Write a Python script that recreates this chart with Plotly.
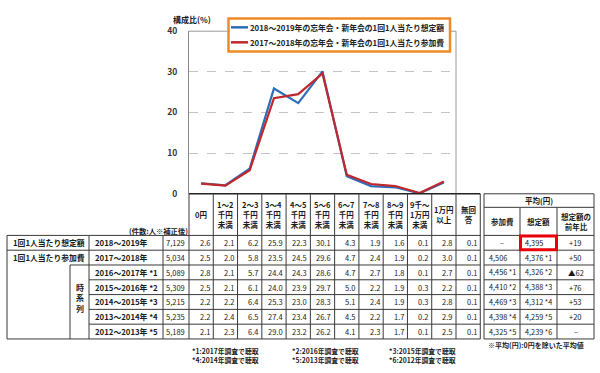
import plotly.graph_objects as go

# ---------------- data ----------------
categories = ["0円", "1～2千円未満", "2～3千円未満", "3～4千円未満", "4～5千円未満",
              "5～6千円未満", "6～7千円未満", "7～8千円未満", "8～9千円未満",
              "9千～1万円未満", "1万円以上"]
header_labels = ["0円", "1～2<br>千円<br>未満", "2～3<br>千円<br>未満", "3～4<br>千円<br>未満",
                 "4～5<br>千円<br>未満", "5～6<br>千円<br>未満", "6～7<br>千円<br>未満",
                 "7～8<br>千円<br>未満", "8～9<br>千円<br>未満", "9千～<br>1万円<br>未満",
                 "1万円<br>以上", "無回<br>答"]

series_names = ["2018～2019年の忘年会・新年会の1回1人当たり想定額",
                "2017～2018年の忘年会・新年会の1回1人当たり参加費"]
series_colors = ["#2E6DB8", "#C0282D"]
expected_2018_2019 = [2.6, 2.1, 6.2, 25.9, 22.3, 30.1, 4.3, 1.9, 1.6, 0.1, 2.8]
actual_2017_2018 = [2.5, 2.0, 5.8, 23.5, 24.5, 29.6, 4.7, 2.4, 1.9, 0.2, 3.0]

row_groups = ["1回1人当たり想定額", "1回1人当たり参加費"]
row_years = ["2018～2019年", "2017～2018年", "2016～2017年 *1", "2015～2016年 *2",
             "2014～2015年 *3", "2013～2014年 *4", "2012～2013年 *5"]
row_counts = [7129, 5034, 5089, 5309, 5215, 5235, 5189]
row_values = [
    [2.6, 2.1, 6.2, 25.9, 22.3, 30.1, 4.3, 1.9, 1.6, 0.1, 2.8, 0.1],
    [2.5, 2.0, 5.8, 23.5, 24.5, 29.6, 4.7, 2.4, 1.9, 0.2, 3.0, 0.1],
    [2.8, 2.1, 5.7, 24.4, 24.3, 28.6, 4.7, 2.7, 1.8, 0.1, 2.7, 0.1],
    [2.5, 2.1, 6.1, 24.0, 23.9, 29.7, 5.0, 2.2, 1.9, 0.3, 2.2, 0.1],
    [2.2, 2.2, 6.4, 25.3, 23.0, 28.3, 5.1, 2.4, 1.9, 0.3, 2.8, 0.1],
    [2.2, 2.4, 6.5, 27.4, 23.4, 26.7, 4.5, 2.2, 1.7, 0.2, 2.9, 0.1],
    [2.1, 2.3, 6.4, 29.0, 23.2, 26.2, 4.1, 2.3, 1.7, 0.1, 2.5, 0.1],
]
avg_participation = ["–", "4,506", "4,456 *1", "4,410 *2", "4,469 *3", "4,398 *4", "4,325 *5"]
avg_expected = ["4,395", "4,376 *1", "4,326 *2", "4,388 *3", "4,312 *4", "4,259 *5", "4,239 *6"]
avg_yoy = ["+19", "+50", "▲62", "+76", "+53", "+20", "–"]
avg_headers = ["参加費", "想定額", "想定額の<br>前年比"]
footnotes = [["*1:2017年調査で聴取", "*2:2016年調査で聴取", "*3:2015年調査で聴取"],
             ["*4:2014年調査で聴取", "*5:2013年調査で聴取", "*6:2012年調査で聴取"]]

y_ticks = [0, 10, 20, 30, 40]

# ---------------- layout geometry (pixels) ----------------
W, H = 600, 373
FONT = "Noto Sans CJK JP, Noto Sans, sans-serif"
TXT = "#1a1a1a"
LINE = "#3a3a3a"


def X(p):
    return p / W


def Y(p):
    return 1 - p / H


plot_l, plot_r, plot_t, plot_b = 189, 456, 25, 193
col_w = (plot_r - plot_l) / len(categories)
n_cols = len(header_labels)
table_r = plot_l + col_w * n_cols
row_top, table_bot = 236, 343
row_h = (table_bot - row_top) / len(row_years)
row_y = [row_top + row_h * i for i in range(len(row_years) + 1)]
avg_l, avg_m1, avg_m2, avg_r = 484, 520, 557, 594

fig = go.Figure()
for name, vals, col in zip(series_names, [expected_2018_2019, actual_2017_2018], series_colors):
    fig.add_trace(go.Scatter(x=categories, y=vals, mode="lines", name=name,
                             line=dict(color=col, width=2.2), showlegend=False,
                             hoverinfo="skip"))

shapes = []
ann = []


def hline(y, x0, x1, color=LINE, w=1):
    shapes.append(dict(type="line", xref="paper", yref="paper", x0=X(x0), x1=X(x1),
                       y0=Y(y), y1=Y(y), line=dict(color=color, width=w), layer="above"))


def vline(x, y0, y1, color=LINE, w=1):
    shapes.append(dict(type="line", xref="paper", yref="paper", x0=X(x), x1=X(x),
                       y0=Y(y0), y1=Y(y1), line=dict(color=color, width=w), layer="above"))


def text(s, x, y, size=8, anchor="center", color=TXT, bold=False):
    ann.append(dict(text=s, x=X(x), y=Y(y), xref="paper", yref="paper", showarrow=False,
                    xanchor=anchor, yanchor="middle", align=anchor if anchor != "center" else "center",
                    font=dict(family=FONT, size=size, color=color,
                              weight="bold" if bold else "normal")))


# plot frame
vline(plot_r, plot_t, plot_b, color="#9a9a9a", w=1)
hline(plot_t, plot_l, plot_r, color="#9a9a9a", w=1)

# y title
text("構成比(%)", 171, 13, size=8, anchor="left", bold=True)

# legend
shapes.append(dict(type="rect", xref="paper", yref="paper", x0=X(228.5), x1=X(450), y0=Y(12),
                   y1=Y(46), line=dict(color="#F08A24", width=2.5), fillcolor="white",
                   layer="above"))
for i, (name, col) in enumerate(zip(series_names, series_colors)):
    yy = 21 + 15.5 * i
    hline(yy, 231, 248, color=col, w=2.5)
    text(name, 248, yy, size=7.8, anchor="left", color="#222", bold=True)

# table lines
hline(plot_b, plot_l, table_r, color="#222", w=1.5)
hline(row_y[0], 7, table_r)
hline(row_y[1], 7, table_r)
hline(row_y[2], 70, table_r)
for yy in row_y[3:7]:
    hline(yy, 89, table_r)
hline(row_y[7], 7, table_r)
vline(7, row_y[0], table_bot)
vline(70, row_y[2], table_bot)
vline(89, row_y[0], table_bot)
vline(163, row_y[0], table_bot)
for k in range(n_cols + 1):
    vline(plot_l + col_w * k, plot_b, table_bot)

# average table lines
shapes.append(dict(type="rect", xref="paper", yref="paper", x0=X(avg_l), x1=X(avg_r),
                   y0=Y(plot_b), y1=Y(table_bot), line=dict(color=LINE, width=1),
                   layer="above"))
hline(207, avg_l, avg_r)
for yy in row_y[:7]:
    hline(yy, avg_l, avg_r)
vline(avg_m1, 207, table_bot)
vline(avg_m2, 207, table_bot)

# headers
for k, lab in enumerate(header_labels):
    cx = plot_l + col_w * (k + 0.5)
    text(lab, cx, 214.5, size=7.5, bold=True)
text("(件数:人※補正後)", 190, 231, size=7.3, anchor="right", bold=True)
text("平均(円)", (avg_l + avg_r) / 2, 200, size=7.5, bold=True)
for lab, (a, b) in zip(avg_headers, [(avg_l, avg_m1), (avg_m1, avg_m2), (avg_m2, avg_r)]):
    text(lab, (a + b) / 2, 221.5, size=7.5, bold=True)

# rows
cy = [(row_y[i] + row_y[i + 1]) / 2 for i in range(len(row_years))]
text(row_groups[0], 11, cy[0], size=7.8, anchor="left", bold=True)
text(row_groups[1], 11, cy[1], size=7.8, anchor="left", bold=True)
text("時<br>系<br>列", 79.5, (cy[3] + cy[4]) / 2 + 4, size=8, bold=True)
for i in range(len(row_years)):
    text(row_years[i], 93, cy[i], size=7.8, anchor="left", bold=True)
    text(f"{row_counts[i]:,}", 187, cy[i], size=7.5, anchor="right")
    for k, v in enumerate(row_values[i]):
        text(f"{v:.1f}", plot_l + col_w * (k + 1) - 1.5, cy[i], size=7.5, anchor="right")
    if avg_participation[i] == "–":
        text(avg_participation[i], (avg_l + avg_m1) / 2, cy[i], size=7.5)
    else:
        text(avg_participation[i], avg_l + 3, cy[i], size=7.3, anchor="left")
    text(avg_expected[i], avg_m1 + 3, cy[i], size=7.3, anchor="left")
    text(avg_yoy[i], (avg_m2 + avg_r) / 2, cy[i], size=7.5)

# highlight box
shapes.append(dict(type="rect", xref="paper", yref="paper", x0=X(avg_m1 + 0.5), x1=X(avg_m2 - 0.5),
                   y0=Y(row_y[0] + 0.5), y1=Y(row_y[1] - 0.5), line=dict(color="#E8000B", width=3),
                   layer="above"))

# notes
text("※平均(円):0円を除いた平均値", 486, 349.5, size=7, anchor="left", bold=True)
for r, line in enumerate(footnotes):
    for c, s in enumerate(line):
        text(s, [190, 290, 387][c], 355 + 9.5 * r, size=6.8, anchor="left", bold=True)

fig.update_layout(
    width=W, height=H, margin=dict(l=0, r=0, t=0, b=0),
    paper_bgcolor="white", plot_bgcolor="white",
    shapes=shapes, annotations=ann, showlegend=False,
    font=dict(family=FONT, color=TXT),
    xaxis=dict(type="category", domain=[X(plot_l), X(plot_r)], range=[-0.5, len(categories) - 0.5],
               showticklabels=False, showgrid=False, zeroline=False, showline=False, ticks=""),
    yaxis=dict(domain=[Y(plot_b), Y(plot_t)], range=[0, 40], tickvals=y_ticks,
               showgrid=True, gridcolor="#c4c4c4", griddash="dash", gridwidth=1,
               zeroline=False, showline=True, linecolor="#8a8a8a", linewidth=1,
               ticks="", ticklabelstandoff=9,
               tickfont=dict(family=FONT, size=8.5, color="#333", weight="bold")),
)
fig.write_html("out.html")
